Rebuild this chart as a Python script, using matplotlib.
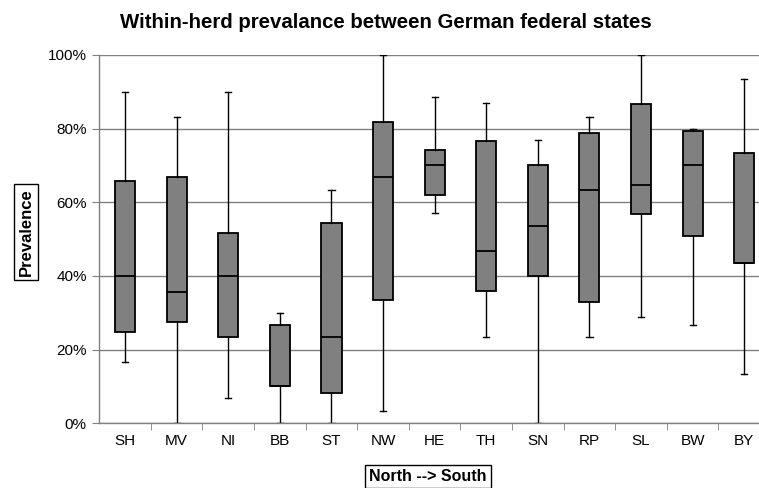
import numpy as np
import matplotlib.pyplot as plt
from matplotlib.ticker import FixedLocator, PercentFormatter

plt.rcParams['font.family'] = ['Liberation Sans', 'DejaVu Sans']

states = ['SH', 'MV', 'NI', 'BB', 'ST', 'NW', 'HE', 'TH', 'SN', 'RP', 'SL', 'BW', 'BY']
w_low = [16.7, 0.0, 7.0, 0.0, 0.0, 3.3, 57.0, 23.3, 0.0, 23.3, 28.8, 26.6, 13.4]
q1 = [24.7, 27.4, 23.3, 10.0, 8.3, 33.4, 62.1, 36.0, 40.0, 32.8, 56.7, 50.8, 43.4]
med = [40.0, 35.7, 40.0, 10.0, 23.5, 66.9, 70.0, 46.8, 53.5, 63.3, 64.7, 70.1, 43.4]
q3 = [65.9, 66.8, 51.7, 26.6, 54.3, 81.8, 74.3, 76.7, 70.0, 78.8, 86.8, 79.3, 73.3]
w_high = [90.0, 83.1, 90.0, 30.0, 63.3, 100.0, 88.6, 87.1, 76.9, 83.3, 100.0, 80.0, 93.4]

stats = []
for i in range(len(states)):
    stats.append(dict(label=states[i], whislo=w_low[i], q1=q1[i], med=med[i],
                      q3=q3[i], whishi=w_high[i], fliers=[]))

fig = plt.figure(figsize=(7.59, 4.88), dpi=100)
ax = fig.add_axes([0.1308, 0.1326, 0.8837, 0.7547])

ax.bxp(stats, positions=np.arange(len(states)), widths=0.39, capwidths=0.12,
       patch_artist=True, showfliers=False,
       boxprops=dict(facecolor='#808080', edgecolor='black', linewidth=1.3),
       medianprops=dict(color='black', linewidth=1.3),
       whiskerprops=dict(color='black', linewidth=1.0),
       capprops=dict(color='black', linewidth=1.0))

ax.set_xlim(-0.5, len(states) - 0.5)
ax.set_ylim(0, 100)
ax.set_yticks([0, 20, 40, 60, 80, 100])
ax.yaxis.set_major_formatter(PercentFormatter(decimals=0))
ax.yaxis.grid(True, color='#808080', linewidth=1.0)
ax.set_axisbelow(True)

ax.set_xticks(np.arange(len(states)))
ax.set_xticklabels(states)
ax.xaxis.set_minor_locator(FixedLocator(np.arange(len(states)) + 0.5))
ax.tick_params(axis='x', which='major', length=0, pad=8, labelsize=11)
ax.tick_params(axis='x', which='minor', length=5, color='#808080', direction='out')
ax.tick_params(axis='y', length=5, color='#808080', labelsize=11, pad=4)

for s in ['top', 'right']:
    ax.spines[s].set_visible(False)
for s in ['left', 'bottom']:
    ax.spines[s].set_color('#808080')
    ax.spines[s].set_linewidth(1.0)

boxstyle = dict(boxstyle='square,pad=0.25', facecolor='white', edgecolor='black', linewidth=1.0)
ax.set_xlabel('North --> South', fontsize=11.5, fontweight='bold', bbox=boxstyle)
ax.xaxis.set_label_coords(0.49, -0.123)
ax.set_ylabel('Prevalence', fontsize=12, fontweight='bold', bbox=boxstyle)
ax.yaxis.set_label_coords(-0.098, 0.52)

fig.text(0.508, 0.953, 'Within-herd prevalance between German federal states',
         ha='center', va='center', fontsize=14.7, fontweight='bold')

fig.savefig('out.png', dpi=100)
